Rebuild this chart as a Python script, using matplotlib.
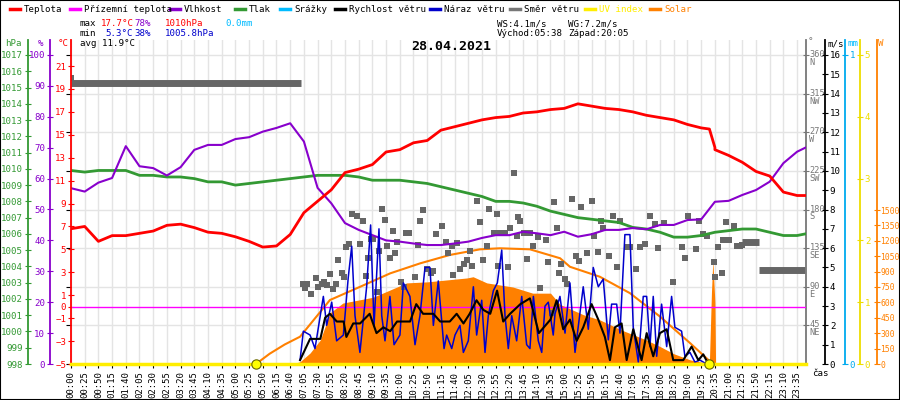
import matplotlib
matplotlib.use("Agg")
import matplotlib.pyplot as plt
import matplotlib.transforms as mtransforms
from matplotlib.lines import Line2D
from matplotlib.patches import Rectangle
import numpy as np

MONO = "DejaVu Sans Mono"
plt.rcParams['font.family'] = [MONO]

# ---------------- data ----------------
time_labels = ["00:00","00:25","00:50","01:15","01:40","02:05","02:30","02:55","03:20","03:45",
               "04:10","04:35","05:00","05:25","05:50","06:15","06:40","07:05","07:30","07:55",
               "08:20","08:45","09:10","09:35","10:00","10:25","10:50","11:15","11:40","12:05",
               "12:30","12:55","13:20","13:45","14:10","14:35","15:00","15:25","15:50","16:15",
               "16:40","17:05","17:35","18:00","18:25","19:00","19:25","20:35","21:00","21:25",
               "21:50","22:15","23:10","23:35"]

slot_pos = list(range(54)) + [53.6]
temperature = [6.8,7.0,5.7,6.2,6.2,6.4,6.6,7.1,7.2,6.9,6.5,6.4,6.1,5.7,5.2,5.3,6.3,8.2,9.2,10.2,
               11.7,12.0,12.4,13.5,13.7,14.3,14.5,15.4,15.7,16.0,16.3,16.5,16.6,16.9,17.0,17.2,17.3,17.7,17.5,17.3,
               17.2,17.0,16.7,16.5,16.3,15.9,15.6,13.7,13.2,12.6,11.8,11.4,10.0,9.7,9.7]
humidity = [56.9,55.8,58.7,60.2,70.5,64.0,63.4,61.0,63.7,69.3,70.9,70.9,72.8,73.4,75.2,76.4,77.9,72.0,57.0,52.0,
            45.6,43.4,41.7,40.0,39.6,39.0,38.5,38.5,39.0,39.6,40.8,41.7,41.7,42.8,42.3,41.7,42.8,41.2,42.0,43.4,
            43.4,44.0,43.6,45.0,45.0,46.6,46.8,52.5,52.8,54.7,56.3,59.0,65.0,68.7,70.0]
pressure = [1009.9,1009.8,1009.9,1009.9,1009.9,1009.6,1009.6,1009.5,1009.5,1009.4,1009.2,1009.2,1009.0,1009.1,1009.2,1009.3,1009.4,1009.5,1009.6,1009.6,
            1009.6,1009.5,1009.3,1009.3,1009.3,1009.2,1009.1,1008.9,1008.7,1008.5,1008.3,1008.0,1008.0,1007.9,1007.7,1007.4,1007.2,1007.0,1006.9,1006.8,
            1006.7,1006.4,1006.3,1006.1,1005.8,1005.8,1005.9,1006.1,1006.2,1006.3,1006.3,1006.1,1005.9,1005.9,1006.0]
temp_drop_pos = [46.0, 46.6, 47.0]
temp_drop_val = [15.6, 15.5, 13.9]
ground_temp = 0.0

wind_pos = [16.72,17.45,18.2,18.55,18.9,19.4,19.9,20.1,20.6,21.1,21.8,22.3,22.8,23.3,23.8,24.0,24.75,25.2,25.7,26.45,
            26.95,27.65,28.15,28.65,29.1,29.6,30.1,30.6,31.1,31.55,32.05,32.8,33.5,34.15,35.0,35.45,35.93,36.42,36.91,37.39,
            38.0,38.49,38.97,39.34,39.7,40.19,40.56,41.04,41.65,42.02,42.5,42.99,43.48,43.96,44.69,45.3,45.79,46.15,46.52]
wind_speed = [0.2,1.3,1.3,2.4,2.6,2.2,2.2,1.4,2.1,2.1,2.6,1.6,1.9,1.7,2.2,2.2,2.2,3.1,2.6,2.6,
              2.2,2.2,2.6,2.1,2.6,3.3,2.8,2.6,3.8,2.2,2.6,3.1,3.4,1.6,2.3,3.3,1.8,2.3,1.2,1.9,
              3.1,2.3,1.4,0.2,1.9,2.1,0.2,1.8,0.2,1.6,0.4,1.6,1.8,0.2,0.2,0.9,0.2,0.5,0.0]
gust_pos = [16.72,16.96,17.45,17.81,18.42,18.66,19.03,19.39,19.88,20.24,20.49,20.73,21.09,21.58,21.87,22.12,22.48,22.68,22.92,23.28,
            23.58,24.01,24.26,24.74,25.11,25.47,25.84,26.2,26.45,26.81,27.23,27.42,27.79,28.03,28.39,28.64,29.0,29.37,29.61,29.98,
            30.22,30.46,30.83,31.12,31.44,31.68,31.92,32.17,32.53,32.9,33.26,33.5,33.75,34.11,34.36,34.6,34.84,35.2,
            35.33,35.69,36.06,36.42,36.79,37.39,37.76,38.12,38.49,38.85,39.22,39.46,39.83,40.07,40.43,40.8,41.04,41.41,41.77,42.02,
            42.26,42.5,42.75,43.11,43.48,43.84,44.08,44.57,44.81,45.18,45.54,45.91,46.4]
wind_gust = [0.2,1.7,1.5,0.8,3.5,2.0,3.2,1.2,1.5,4.5,6.1,2.5,0.6,4.0,7.2,2.0,7.0,2.5,1.2,3.5,
             1.0,1.5,4.2,3.5,1.0,2.5,5.0,5.0,2.0,4.3,0.8,1.5,0.8,1.5,2.0,0.6,1.2,4.0,1.5,3.3,
             0.6,2.5,3.8,4.2,5.9,2.5,0.8,2.5,1.2,3.5,1.0,0.8,3.5,1.2,0.6,3.0,3.2,1.5,
             2.6,3.5,1.6,4.2,0.6,4.0,1.8,5.0,4.0,4.4,1.25,3.1,3.1,1.6,6.7,6.7,1.9,0.1,3.5,3.5,
             0.9,3.5,0.4,3.1,0.9,3.5,1.9,1.7,0.4,0.6,0.1,0.2,0.0]

dir_line1_pos = [0.0, 16.8]
dir_line1_val = [327, 327]
dir_line2_pos = [49.0, 50.2]
dir_line2_val = [142, 142]
dir_line3_pos = [50.2, 53.6]
dir_line3_val = [109, 109]
dir_pos = [0.0,16.9,17.1,17.5,17.25,17.9,18.05,18.3,18.5,18.7,18.9,19.15,19.35,19.5,19.75,19.9,20.05,20.3,20.5,20.85,
           21.1,21.3,21.5,21.7,21.9,22.05,22.3,22.5,22.7,22.9,23.1,23.3,23.5,23.65,23.8,24.1,24.3,24.45,24.7,25.1,
           25.35,25.5,25.7,25.95,26.25,26.45,26.65,27.05,27.4,27.55,27.8,27.9,28.15,28.4,28.65,28.9,29.1,29.3,29.65,29.85,
           30.05,30.35,30.5,30.9,31.1,31.2,31.35,31.7,31.9,32.05,32.3,32.55,32.65,32.8,33.05,33.25,33.5,33.75,34.1,34.25,
           34.65,34.85,35.1,35.25,35.45,35.65,35.8,36.05,36.2,36.6,36.85,37.1,37.2,37.65,38.0,38.15,38.5,38.65,38.85,39.3,
           39.55,39.85,40.1,40.6,40.8,41.25,41.5,41.9,42.25,42.6,42.85,43.25,43.95,44.6,44.8,45.05,45.6,45.85,46.15,46.4,
           46.9,47.0,47.25,47.5,47.6,47.8,48.05,48.4,48.6,48.8,48.95]
dir_val = [333,93,89,82,93,100,90,93,96,92,105,87,93,121,106,101,136,140,175,172,
           140,167,102,124,146,146,84,132,181,168,137,124,155,129,142,96,90,153,153,101,
           139,167,179,111,106,108,152,161,142,129,137,104,141,111,117,121,132,114,190,166,
           121,137,181,153,175,114,153,153,113,158,223,149,171,167,153,122,153,137,148,89,
           144,119,59,189,159,106,117,99,93,192,126,120,183,129,190,149,131,167,159,126,
           172,113,167,136,136,111,136,140,172,163,135,164,95,136,124,172,134,167,151,149,
           119,101,136,106,144,165,144,161,137,137,139]

solar_pos = [16.0,16.7,17.45,18.2,18.9,19.85,22.05,24.5,26.0,28.9,29.35,30.35,32.25,33.7,35.0,35.7,37.4,38.6,40.2,42.0,
             43.0,44.0,45.2,46.3,46.6,46.75,46.85,47.0,47.05]
solar = [0,20,107,234,497,594,650,790,800,838,850,790,750,690,690,580,480,430,330,234,
         170,100,40,10,20,700,1013,600,0]
solar_max_pos = [13.5,14.5,15.6,16.72,18.9,21.1,23.3,25.5,27.65,29.85,31.3,33.5,35.7,36.42,38.6,40.8,43.0,45.2,46.52,46.55]
solar_max = [0,100,190,266,623,752,883,981,1062,1117,1127,1117,1030,947,850,690,461,202,40,0]
uv_index = 0.0
sun_events = [13.5, 46.55]

# ---------------- figure ----------------
W, H = 900, 400
FS = 6.6
fig = plt.figure(figsize=(9, 4), dpi=100)
L, R, B, T = 71, 806, 364, 40
rect = [L / W, 1 - B / H, (R - L) / W, (B - T) / H]
XMAX = 53.65
ph = B - T

def ylim_for(lo, hi, top_px=55):
    per = (hi - lo) / (B - top_px)
    return lo, lo + per * ph

base = fig.add_axes(rect)
base.set_xlim(0, XMAX)
base.set_ylim(*ylim_for(0, 16))
base.set_xticks(range(len(time_labels)))
base.set_xticklabels(time_labels, rotation=90, fontsize=6.5, family=MONO)
base.tick_params(axis='x', direction='out', length=3, pad=2)
base.set_yticks(range(0, 17, 2))
base.tick_params(axis='y', left=False, labelleft=False)
base.grid(True, color='#e4e4e4', lw=1)
for s in ['left', 'right', 'top']:
    base.spines[s].set_visible(False)
base.spines['bottom'].set_color('black')
base.set_axisbelow(True)

def make_axis(side, offset_px, lims, ticks, labels, color, fontsize=FS, pad=1):
    a = base.twinx()
    a.set_ylim(*lims)
    for s in ['left', 'right', 'top', 'bottom']:
        a.spines[s].set_visible(False)
    pos = (offset_px - L) / (R - L)
    if side == 'left':
        a.yaxis.set_label_position('left')
        a.yaxis.tick_left()
    else:
        a.yaxis.tick_right()
    a.spines[side].set_visible(True)
    a.spines[side].set_position(('axes', pos))
    a.spines[side].set_color(color)
    a.spines[side].set_linewidth(1.3)
    a.set_yticks(ticks)
    a.set_yticklabels(labels, fontsize=fontsize, color=color, family=MONO)
    a.tick_params(axis='y', direction='inout', length=5, color=color, pad=pad)
    a.set_xlim(0, XMAX)
    return a

ax_sol = make_axis('right', 877, ylim_for(0, 1500, 210), list(range(0, 1501, 150)),
                   [str(v) for v in range(0, 1501, 150)], '#ff8000', fontsize=5.8, pad=0)
ax_sol.fill_between(solar_pos, solar, color='#ff8000', lw=0, zorder=1)
ax_sol.plot(solar_max_pos, solar_max, color='#ff8000', lw=1.5, zorder=2)

ax_uv = make_axis('right', 860, ylim_for(0, 5), list(range(6)), [str(v) for v in range(6)], '#eedd00')
ax_mm = make_axis('right', 845, ylim_for(0, 1), [0, 1], ['0', '1'], '#00aaee')
ax_dir = make_axis('right', 806, ylim_for(0, 360), list(range(45, 361, 45)),
                   ['45\nNE', '90\nE', '135\nSE', '180\nS', '225\nSW', '270\nW', '315\nNW', '360\nN'],
                   '#777777', fontsize=6.2, pad=0)
shift = mtransforms.ScaledTranslation(0, 5 / 100, fig.dpi_scale_trans)
for lbl in ax_dir.get_yticklabels():
    lbl.set_va('top')
    lbl.set_linespacing(0.85)
    lbl.set_transform(lbl.get_transform() + shift)
ax_dir.plot(dir_line1_pos, dir_line1_val, color='#666666', lw=5, solid_capstyle='butt')
ax_dir.plot(dir_line2_pos, dir_line2_val, color='#666666', lw=5, solid_capstyle='butt')
ax_dir.plot(dir_line3_pos, dir_line3_val, color='#666666', lw=5, solid_capstyle='butt')
ax_dir.scatter(dir_pos, dir_val, marker='s', s=18, color='#666666', lw=0)

ax_p = make_axis('left', 28, ylim_for(998, 1017), list(range(998, 1018)),
                 [str(v) for v in range(998, 1018)], '#339933')
ax_p.plot(slot_pos, pressure, color='#339933', lw=2)
ax_h = make_axis('left', 50, ylim_for(0, 100), list(range(0, 101, 10)),
                 [str(v) for v in range(0, 101, 10)], '#8800cc')
ax_h.plot(slot_pos, humidity, color='#8800cc', lw=1.5)
tticks = [-5, -3, -1, 0, 1, 3, 5, 7, 9, 11, 13, 15, 17, 19, 21]
ax_t = make_axis('left', 71, ylim_for(-5, 21, 66), tticks, [str(v).replace('-', '\u2212') for v in tticks], '#ff0000')
ax_t.axhline(ground_temp, color='#ff00ff', lw=1)
tp = slot_pos[:46] + temp_drop_pos + slot_pos[47:]
tv = temperature[:46] + temp_drop_val + temperature[47:]
ax_t.plot(tp, tv, color='#ff0000', lw=2)

ax_w = make_axis('right', 825, ylim_for(0, 16), list(range(17)), [str(v) for v in range(17)], 'black')
ax_w.plot(gust_pos, wind_gust, color='#0000cc', lw=1.1)
ax_w.plot(wind_pos, wind_speed, color='black', lw=1.5)

ax_uv2 = base.twinx()
ax_uv2.set_ylim(*ylim_for(0, 5))
ax_uv2.set_xlim(0, XMAX)
ax_uv2.axis('off')
ax_uv2.axhline(uv_index, color='#ffee00', lw=2.5, clip_on=False)
ax_uv2.scatter(sun_events, [uv_index] * 2, s=45, color='#ffff00', edgecolor='#666600', lw=0.8, zorder=5, clip_on=False)

# ---------------- texts ----------------
def ft(x, y, s, color='black', fontsize=FS, **kw):
    fig.text(x / W, 1 - y / H, s, color=color, family=MONO, va='center', fontsize=fontsize, **kw)

legend = [("Teplota", '#ff0000', 10), ("Přízemní teplota", '#ff00ff', 70), ("Vlhkost", '#8800cc', 170),
          ("Tlak", '#339933', 235), ("Srážky", '#00bbff', 280), ("Rychlost větru", 'black', 335),
          ("Náraz větru", '#0000cc', 430), ("Směr větru", '#777777', 510), ("UV index", '#ffee00', 585),
          ("Solar", '#ff8000', 650)]
for name, col, x0 in legend:
    fig.add_artist(Line2D([x0 / W, (x0 + 10) / W], [1 - 9 / H] * 2, color=col, lw=2.5))
    ft(x0 + 14, 9, name, col if name in ("UV index", "Solar") else 'black')

ft(80, 24, "max"); ft(101, 24, "17.7°C", '#ff0000')
ft(134, 24, "78%", '#8800cc'); ft(165, 24, "1010hPa", '#ff0000')
ft(225, 24, "0.0mm", '#00bbff')
ft(80, 34, "min"); ft(105, 34, "5.3°C", '#0000cc')
ft(134, 34, "38%", '#0000cc'); ft(165, 34, "1005.8hPa", '#0000cc')
ft(80, 44, "avg 11.9°C")
ft(497, 24, "WS:4.1m/s"); ft(568, 24, "WG:7.2m/s")
ft(497, 34, "Východ:05:38"); ft(568, 34, "Západ:20:05")
ft(451, 47, "28.04.2021", fontsize=9.5, weight='bold', ha='center')
ft(5, 44, "hPa", '#339933')
ft(38, 44, "%", '#8800cc')
ft(58, 44, "°C", '#ff0000')
ft(808, 42, "°", '#777777')
ft(827, 44, "m/s", 'black')
ft(848, 44, "mm", '#00bbff')
ft(878, 44, "W", '#ff8000')
ft(812, 374, "čas")

fig.add_artist(Rectangle((0, 0), 1, 1, transform=fig.transFigure, fill=False, edgecolor='black', lw=1.5))
fig.savefig("out.png", dpi=100)
